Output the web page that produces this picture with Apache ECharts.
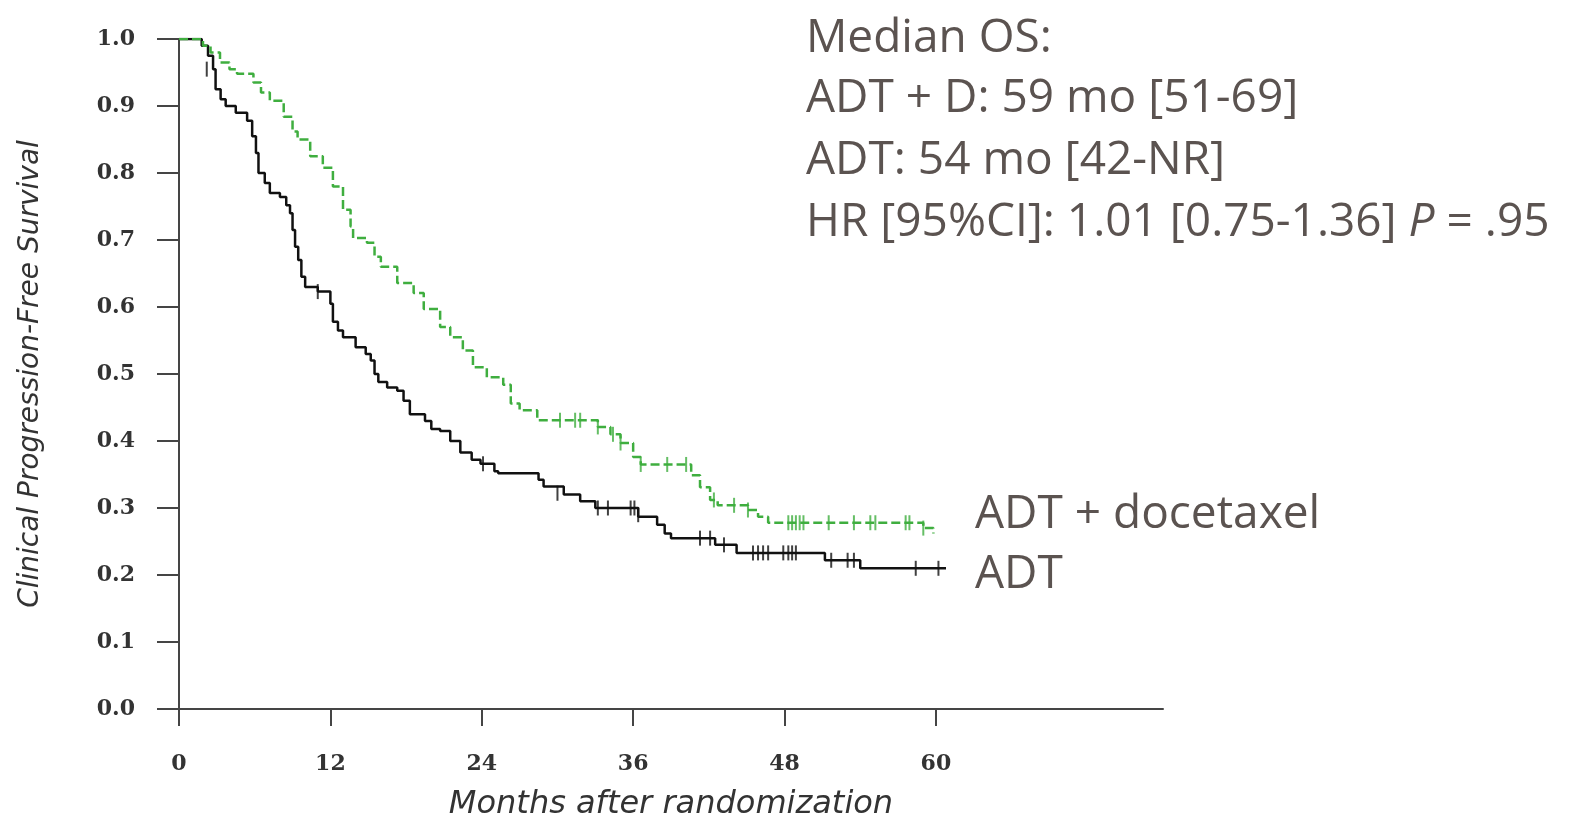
<!DOCTYPE html>
<html>
<head>
    <meta charset="utf-8">
    <title>PFS curve</title>
    <style>
        html, body { margin: 0; padding: 0; background: #fff; }
    </style>
</head>
<body>
    <div id="main" style="width: 1572px;height:818px;"></div>

    <script src="https://cdn.jsdelivr.net/npm/echarts@6.0.0/dist/echarts.min.js"></script>
    <script type="text/javascript">
        // months, survival
        var adtCurve = [
            [0, 1.0], [1.5, 1.0], [1.8, 0.99], [2.3, 0.975], [2.7, 0.955], [2.9, 0.925], [3.3, 0.91],
            [3.7, 0.90], [4.5, 0.89], [5.4, 0.878], [5.8, 0.855], [6.1, 0.83], [6.3, 0.80], [6.8, 0.785],
            [7.2, 0.77], [8.0, 0.764], [8.5, 0.752], [8.8, 0.74], [9.0, 0.715], [9.2, 0.69], [9.45, 0.67],
            [9.7, 0.645], [10.0, 0.63], [11.0, 0.623], [12.0, 0.605], [12.2, 0.578], [12.6, 0.565],
            [13.0, 0.555], [14.0, 0.54], [14.8, 0.53], [15.2, 0.52], [15.5, 0.50], [15.8, 0.488],
            [16.5, 0.48], [17.3, 0.475], [17.8, 0.46], [18.3, 0.44], [19.5, 0.43], [20.0, 0.418],
            [20.7, 0.415], [21.5, 0.40], [22.3, 0.383], [23.2, 0.372], [23.9, 0.366], [25.0, 0.355],
            [25.3, 0.352], [28.0, 0.352], [28.5, 0.342], [28.9, 0.332], [30.5, 0.32], [31.8, 0.31],
            [33.0, 0.30], [36.4, 0.287], [37.9, 0.275], [38.5, 0.262], [39.0, 0.255], [42.5, 0.245],
            [44.2, 0.233], [51.2, 0.222], [54.0, 0.21], [60.8, 0.21]
        ];
        var adtCensor = [
            [2.2, 0.955], [11.0, 0.623], [24.1, 0.366], [30.0, 0.322], [33.2, 0.30], [34.0, 0.30],
            [35.8, 0.30], [36.1, 0.30], [36.4, 0.29], [41.3, 0.255], [42.1, 0.255], [43.2, 0.245],
            [45.5, 0.233], [45.9, 0.233], [46.3, 0.233], [46.7, 0.233], [47.9, 0.233], [48.3, 0.233],
            [48.6, 0.233], [48.9, 0.233], [51.7, 0.222], [53.0, 0.222], [53.5, 0.222], [58.4, 0.21],
            [60.2, 0.21]
        ];
        var docCurve = [
            [0, 1.0], [1.5, 1.0], [1.9, 0.99], [2.5, 0.98], [3.25, 0.965], [4.0, 0.955], [4.6, 0.948],
            [5.9, 0.935], [6.5, 0.92], [7.2, 0.908], [8.3, 0.884], [9.0, 0.862], [9.4, 0.85],
            [10.4, 0.825], [11.4, 0.808], [12.2, 0.78], [13.0, 0.745], [13.6, 0.72], [13.8, 0.703],
            [14.9, 0.696], [15.5, 0.675], [16.0, 0.66], [17.3, 0.636], [18.6, 0.621], [19.4, 0.597],
            [20.7, 0.57], [21.5, 0.555], [22.5, 0.535], [23.3, 0.51], [24.4, 0.495], [25.7, 0.484],
            [26.3, 0.456], [27.0, 0.446], [28.4, 0.431], [33.2, 0.421], [34.2, 0.41], [35.0, 0.397],
            [36.0, 0.376], [36.6, 0.365], [40.6, 0.349], [41.3, 0.331], [42.1, 0.312], [42.7, 0.304],
            [45.1, 0.297], [45.9, 0.287], [46.7, 0.278], [59.0, 0.27], [59.8, 0.262]
        ];
        var docCensor = [
            [30.2, 0.431], [31.4, 0.431], [31.8, 0.431], [33.2, 0.421], [34.4, 0.41], [35.0, 0.397],
            [36.6, 0.365], [38.7, 0.365], [40.2, 0.365], [42.4, 0.312], [44.0, 0.304], [45.1, 0.297],
            [48.3, 0.278], [48.6, 0.278], [48.9, 0.278], [49.2, 0.278], [49.5, 0.278], [51.5, 0.278],
            [53.5, 0.278], [54.8, 0.278], [55.2, 0.278], [57.6, 0.278], [57.9, 0.278], [59.0, 0.27]
        ];
        var xTicks = [0, 12, 24, 36, 48, 60];
        var seriesNames = ['ADT + docetaxel', 'ADT'];
        var notes = [
            'Median OS:',
            'ADT + D: 59 mo [51-69]',
            'ADT: 54 mo [42-NR]',
            'HR [95%CI]: 1.01 [0.75-1.36] {i|P} = .95'
        ];

        var axisCol = '#454545';
        var noteCol = '#5b5350';
        var noteFont = '46px "Open Sans"';
        var tickFont = { fontFamily: 'DejaVu Serif', fontWeight: 'bold', fontSize: 22, color: '#333' };

        var myChart = echarts.init(document.getElementById('main'));
        var option = {
            animation: false,
            grid: {
                left: 179, right: 409, top: 39, bottom: 109,
                containLabel: false, outerBoundsMode: 'none'
            },
            xAxis: {
                type: 'value',
                min: 0, max: 78,
                name: 'Months after randomization',
                nameLocation: 'middle',
                nameGap: 80,
                nameTextStyle: { fontFamily: 'DejaVu Sans', fontStyle: 'italic', fontSize: 32, color: '#333' },
                axisLine: { lineStyle: { color: axisCol, width: 2 } },
                axisTick: { customValues: xTicks, length: 17, lineStyle: { color: axisCol, width: 2 } },
                axisLabel: Object.assign({ customValues: xTicks, margin: 44 }, tickFont),
                splitLine: { show: false }
            },
            yAxis: {
                type: 'value',
                min: 0, max: 1, interval: 0.1,
                name: 'Clinical Progression-Free Survival',
                nameLocation: 'middle',
                nameGap: 134,
                nameTextStyle: { fontFamily: 'DejaVu Sans', fontStyle: 'italic', fontSize: 28, color: '#333' },
                axisLine: { show: true, lineStyle: { color: axisCol, width: 2 } },
                axisTick: { show: true, length: 22, lineStyle: { color: axisCol, width: 2 } },
                axisLabel: Object.assign({ margin: 44, formatter: function (v) { return v.toFixed(1); } }, tickFont),
                splitLine: { show: false }
            },
            series: [
                {
                    name: seriesNames[1], type: 'line', step: 'end', data: adtCurve,
                    symbol: 'none', lineStyle: { color: '#111', width: 2.5 }, z: 3
                },
                {
                    name: seriesNames[1] + ' censored', type: 'scatter', data: adtCensor,
                    symbol: 'rect', symbolSize: [2, 15], itemStyle: { color: '#111' }, z: 3
                },
                {
                    name: seriesNames[0], type: 'line', step: 'end', data: docCurve,
                    symbol: 'none', lineStyle: { color: '#3fae3f', width: 2.5, type: [9, 4] }, z: 4
                },
                {
                    name: seriesNames[0] + ' censored', type: 'scatter', data: docCensor,
                    symbol: 'rect', symbolSize: [2, 15], itemStyle: { color: '#3fae3f' }, z: 4
                }
            ],
            graphic: [
                { type: 'text', left: 806, top: 16, style: { text: notes[0], font: noteFont, fill: noteCol } },
                { type: 'text', left: 806, top: 76, style: { text: notes[1], font: noteFont, fill: noteCol } },
                { type: 'text', left: 806, top: 138, style: { text: notes[2], font: noteFont, fill: noteCol } },
                {
                    type: 'text', left: 806, top: 200,
                    style: {
                        text: notes[3], font: noteFont, fill: noteCol,
                        rich: { i: { fontFamily: 'Open Sans', fontSize: 46, fontStyle: 'italic', fill: noteCol, color: noteCol } }
                    }
                },
                { type: 'text', left: 975, top: 492, style: { text: seriesNames[0], font: noteFont, fill: noteCol } },
                { type: 'text', left: 975, top: 552, style: { text: seriesNames[1], font: noteFont, fill: noteCol } }
            ]
        };
        myChart.setOption(option);
    </script>
</body>
</html>
